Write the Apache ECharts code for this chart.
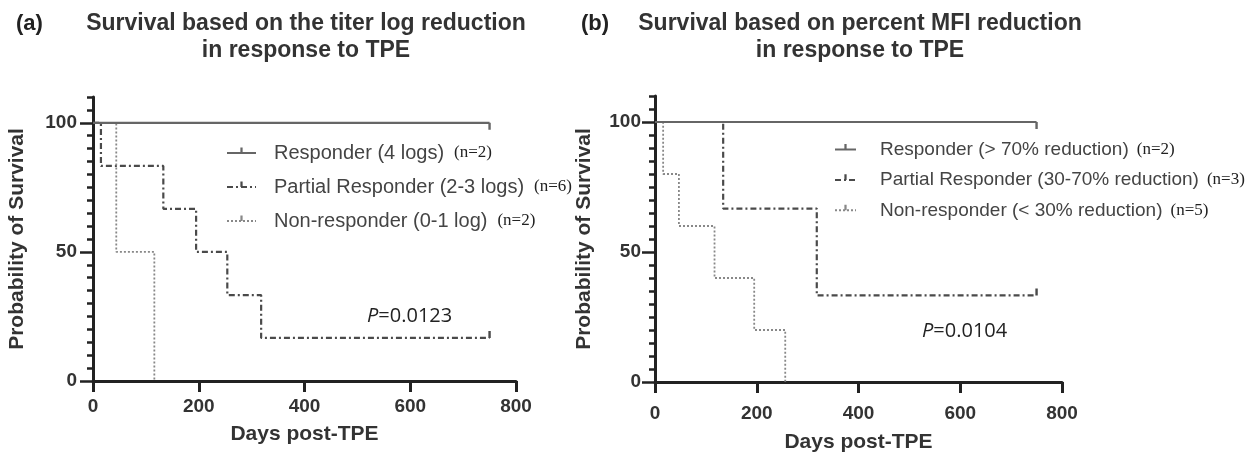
<!DOCTYPE html>
<html>
<head>
<meta charset="utf-8">
<script src="https://cdn.jsdelivr.net/npm/echarts@6/dist/echarts.min.js"></script>
<style>
html,body{margin:0;padding:0;background:#fff;}
#chart{width:1252px;height:456px;}
</style>
</head>
<body>
<div id="chart"></div>
<script>
// ---------- data ----------
const panelLetters = ['(a)', '(b)'];
const panelTitles = [
  'Survival based on the titer log reduction\nin response to TPE',
  'Survival based on percent MFI reduction\nin response to TPE'
];
const pValues = ['0.0123', '0.0104'];
const xAxisName = 'Days post-TPE';
const yAxisName = 'Probability of Survival';
const yMajorTicks = [0, 50, 100];

// Panel (a): titer log reduction
const aNames = ['Responder (4 logs)', 'Partial Responder (2-3 logs)', 'Non-responder (0-1 log)'];
const aN = [2, 6, 2];
const aResponderDays = [0, 750];
const aResponderSurv = [100, 100];
const aPartialDays = [0, 15, 133, 195, 254, 318, 750];
const aPartialSurv = [100, 83.3, 66.7, 50, 33.3, 16.7, 16.7];
const aNonDays = [0, 44, 116];
const aNonSurv = [100, 50, 0];

// Panel (b): percent MFI reduction
const bNames = ['Responder (> 70% reduction)', 'Partial Responder (30-70% reduction)', 'Non-responder (< 30% reduction)'];
const bN = [2, 3, 5];
const bResponderDays = [0, 750];
const bResponderSurv = [100, 100];
const bPartialDays = [0, 134, 318, 750];
const bPartialSurv = [100, 66.7, 33.3, 33.3];
const bNonDays = [0, 16, 47, 117, 195, 256];
const bNonSurv = [100, 80, 60, 40, 20, 0];

// ---------- styles ----------
const SANS = "'Liberation Sans', Arial, sans-serif";
const SERIF = "'Liberation Serif', 'Times New Roman', serif";
const PFONT = "'Open Sans', sans-serif";
const AXIS_COLOR = '#222';
const TEXT_COLOR = '#333';
const CENSOR_UP = 'path://M0,0L10,0Z M0,10L10,10Z M4,0L6,0L6,5L4,5Z';
const CENSOR_DOWN = 'path://M0,0L10,0Z M0,10L10,10Z M4,5L6,5L6,10L4,10Z';
const styles = {
  responder: { color: '#666', width: 2.2, type: 'solid', censor: CENSOR_DOWN },
  partial: { color: '#4a4a4a', width: 2.2, type: [6, 3, 2, 3], censor: CENSOR_UP },
  non: { color: '#888', width: 1.8, type: [2, 2], censor: null }
};

function km(name, days, surv, st, gi) {
  const data = days.map(function (d, i) {
    const last = i === days.length - 1 && st.censor;
    return last
      ? { value: [d, surv[i]], symbol: st.censor, symbolSize: [12, 14] }
      : { value: [d, surv[i]], symbol: 'none' };
  });
  return {
    type: 'line', name: name, xAxisIndex: gi, yAxisIndex: gi * 2,
    step: 'end', data: data, symbol: CENSOR_UP, showSymbol: true,
    lineStyle: { color: st.color, width: st.width, type: st.type },
    itemStyle: { color: st.color },
    silent: true, animation: false
  };
}

const layout = [
  { grid: { left: 93, right: 736, top: 97, bottom: 75 }, titleX: 306, letterX: 16,
    xLabelMargin: 16, xNameGap: 32, yLabelMargin: 16, yNameGap: 65,
    legend: { left: 226, top: 143, itemWidth: 29, itemGap: 14, pad: 13, fontSize: 20, nGap: 10 },
    p: { left: 367, top: 304 } },
  { grid: { left: 655, right: 190, top: 96, bottom: 74 }, titleX: 860, letterX: 581,
    xLabelMargin: 22, xNameGap: 47, yLabelMargin: 14, yNameGap: 60,
    legend: { left: 834, top: 140, itemWidth: 21, itemGap: 11.4, pad: 19, fontSize: 19, nGap: 8 },
    p: { left: 922, top: 319 } }
];

const grids = [], xAxes = [], yAxes = [], titles = [], legends = [];
[[aNames, aN], [bNames, bN]].forEach(function (pair, gi) {
  const L = layout[gi];
  grids.push(Object.assign({ outerBoundsMode: 'none', containLabel: false }, L.grid));
  xAxes.push({
    gridIndex: gi, type: 'value', min: 0, max: 800, interval: 200,
    axisLine: { show: true, lineStyle: { color: AXIS_COLOR, width: 3 } },
    axisTick: { show: true, length: 11, lineStyle: { color: AXIS_COLOR, width: 3 } },
    axisLabel: { margin: L.xLabelMargin, fontFamily: SANS, fontWeight: 'bold', fontSize: 19, color: TEXT_COLOR },
    splitLine: { show: false },
    name: xAxisName, nameLocation: 'middle', nameGap: L.xNameGap,
    nameTextStyle: { fontFamily: SANS, fontWeight: 'bold', fontSize: 21, color: TEXT_COLOR, lineHeight: 26 }
  });
  yAxes.push({
    gridIndex: gi, type: 'value', position: 'left', min: 0, max: 110, interval: 5,
    axisLine: { show: true, onZero: false, lineStyle: { color: AXIS_COLOR, width: 3 } },
    axisTick: { show: true, length: 6, lineStyle: { color: AXIS_COLOR, width: 2.5 } },
    axisLabel: { show: false }, splitLine: { show: false }
  });
  yAxes.push({
    gridIndex: gi, type: 'value', position: 'left', min: 0, max: 110,
    axisLine: { show: false },
    axisTick: { show: true, length: 13, customValues: yMajorTicks, lineStyle: { color: AXIS_COLOR, width: 2.5 } },
    axisLabel: { customValues: yMajorTicks, margin: L.yLabelMargin, fontFamily: SANS, fontWeight: 'bold', fontSize: 19, color: TEXT_COLOR },
    splitLine: { show: false },
    name: yAxisName, nameLocation: 'middle', nameGap: L.yNameGap, nameRotate: 90,
    nameTextStyle: { fontFamily: SANS, fontWeight: 'bold', fontSize: 21, color: TEXT_COLOR }
  });
  titles.push({
    text: panelTitles[gi], left: L.titleX, top: 10, textAlign: 'center', padding: 0,
    textStyle: { fontFamily: SANS, fontWeight: 'bold', fontSize: 23, lineHeight: 27, color: TEXT_COLOR }
  });
  titles.push({
    text: panelLetters[gi], left: L.letterX, top: 10, padding: 0,
    textStyle: { fontFamily: SANS, fontWeight: 'bold', fontSize: 22, lineHeight: 27, color: '#222' }
  });
  titles.push({
    text: '{i|P}{n|=' + pValues[gi] + '}', left: L.p.left, top: L.p.top, padding: 0,
    textStyle: { fontWeight: 'normal', rich: {
      i: { fontFamily: PFONT, fontStyle: 'italic', fontWeight: 'normal', fontSize: 20, color: '#222', lineHeight: 24 },
      n: { fontFamily: PFONT, fontWeight: 'normal', fontSize: 20, color: '#222', lineHeight: 24 }
    } }
  });
  const names = pair[0], ns = pair[1];
  legends.push({
    data: names, orient: 'vertical', left: L.legend.left, top: L.legend.top, padding: 0,
    itemWidth: L.legend.itemWidth, itemHeight: 14, itemGap: L.legend.itemGap, selectedMode: false,
    formatter: function (name) {
      const i = names.indexOf(name);
      return '{a|' + name + '}{b|(n=' + ns[i] + ')}';
    },
    textStyle: { rich: {
      a: { fontFamily: SANS, fontSize: L.legend.fontSize, color: '#444', lineHeight: 22, padding: [0, 0, 0, L.legend.pad] },
      b: { fontFamily: SERIF, fontSize: 17, color: '#222', lineHeight: 22, padding: [0, 0, 0, L.legend.nGap] }
    } }
  });
});

const series = [
  km(aNames[1], aPartialDays, aPartialSurv, styles.partial, 0),
  km(aNames[2], aNonDays, aNonSurv, styles.non, 0),
  km(aNames[0], aResponderDays, aResponderSurv, styles.responder, 0),
  km(bNames[1], bPartialDays, bPartialSurv, styles.partial, 1),
  km(bNames[2], bNonDays, bNonSurv, styles.non, 1),
  km(bNames[0], bResponderDays, bResponderSurv, styles.responder, 1)
];

const chart = echarts.init(document.getElementById('chart'), null, { renderer: 'canvas' });
chart.setOption({
  backgroundColor: '#fff',
  animation: false,
  title: titles,
  legend: legends,
  grid: grids,
  xAxis: xAxes,
  yAxis: yAxes,
  series: series
});
</script>
</body>
</html>
